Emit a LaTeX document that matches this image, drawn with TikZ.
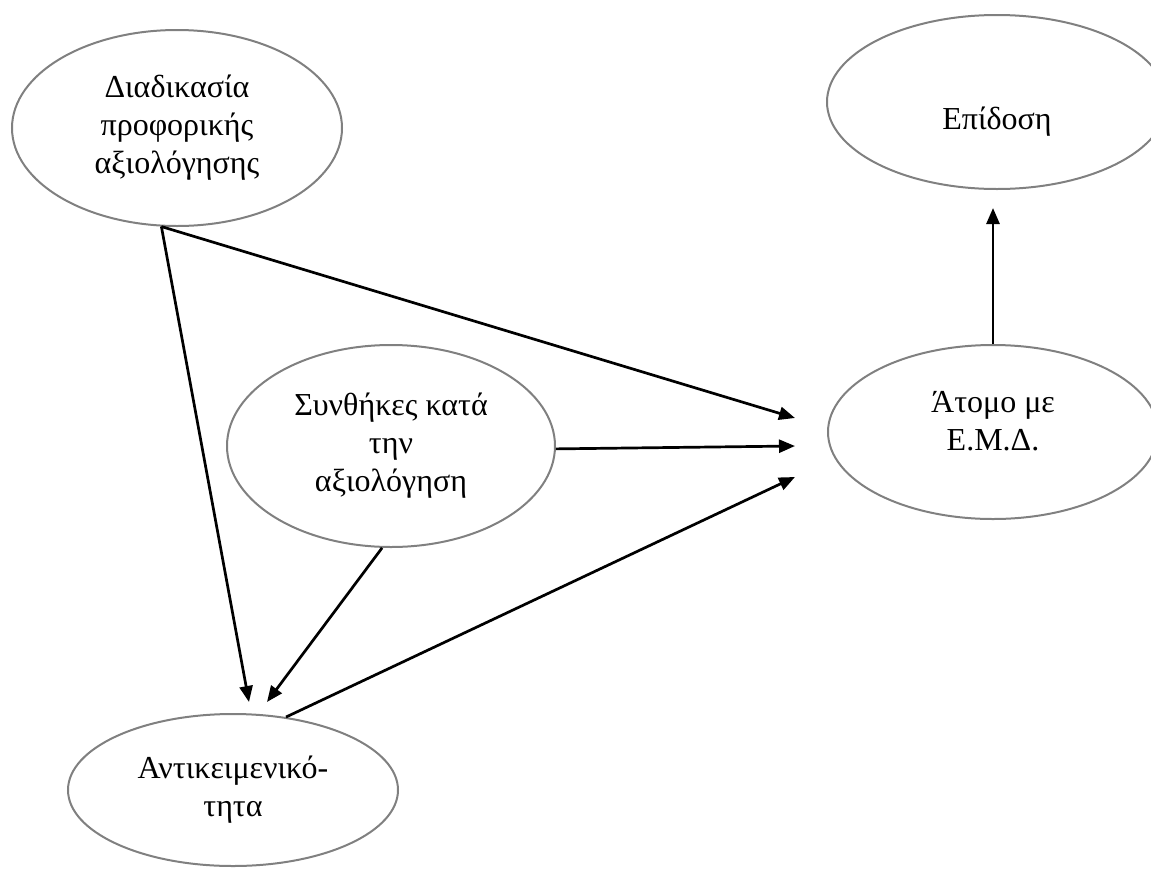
\documentclass[tikz,border=0pt]{standalone}
\usepackage{fontspec}
\setmainfont{Liberation Serif}
\usetikzlibrary{shapes.geometric, arrows.meta}

\begin{document}
\begin{tikzpicture}[x=0.5pt, y=-0.5pt,
  oval/.style={ellipse, draw=gray, line width=1pt, inner sep=0pt,
    align=center, font=\fontsize{16}{19}\selectfont},
  arr/.style={-{Triangle[length=8pt, width=6.5pt]}, line width=1.35pt},
]
  \clip (0,0) rectangle (1151,868);
  \node[oval, minimum width=165pt, minimum height=98pt] (proc) at (177,128)
    {Διαδικασία\\προφορικής\\αξιολόγησης};
  \node[oval, minimum width=170pt, minimum height=87pt,
    label={[yshift=-10pt, font=\fontsize{16}{19}\selectfont]center:Επίδοση}] (perf) at (997,102) {};
  \node[oval, minimum width=164pt, minimum height=101pt] (cond) at (391,446)
    {Συνθήκες κατά\\την\\αξιολόγηση};
  \node[oval, minimum width=165pt, minimum height=87pt,
    label={[yshift=5.5pt, align=center, font=\fontsize{16}{19}\selectfont]center:Άτομο με\\Ε.Μ.Δ.}] (atom) at (993,432) {};
  \node[oval, minimum width=165pt, minimum height=76pt] (obj) at (233,790)
    {Αντικειμενικό-\\τητα};
  % άκρα των βελών
  \coordinate (t1) at (795,418);
  \coordinate (t2) at (795,446);
  \coordinate (t3) at (795,477);
  \coordinate (s1) at (249,702);
  \coordinate (s2) at (267,702);
  \coordinate (up) at (993,208);
  \draw[arr] (proc.261) -- (t1);
  \draw[arr] (proc.261) -- (s1);
  \draw[arr] (cond.359) -- (t2);
  \draw[arr] (cond.265) -- (s2);
  \draw[arr] (obj.54) -- (t3);
  \draw[arr] (atom.north) -- (up);
\end{tikzpicture}
\end{document}
